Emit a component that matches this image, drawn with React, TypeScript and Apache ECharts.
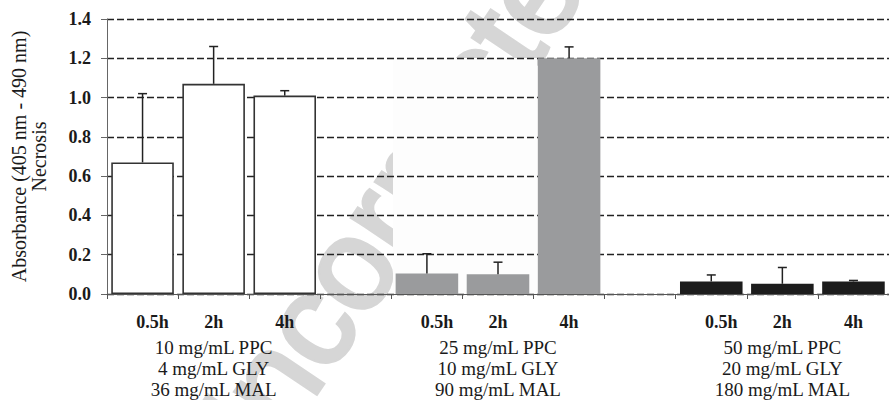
import React, { useEffect, useRef } from "react";
import * as echarts from "echarts";

const hours = ["0.5h", "2h", "4h"];
const groupLabels = [
  ["10 mg/mL PPC", "4 mg/mL GLY", "36 mg/mL MAL"],
  ["25 mg/mL PPC", "10 mg/mL GLY", "90 mg/mL MAL"],
  ["50 mg/mL PPC", "20 mg/mL GLY", "180 mg/mL MAL"],
];
const lowDoseMeans = [0.67, 1.07, 1.01];
const lowDoseSD = [0.35, 0.19, 0.025];
const midDoseMeans = [0.105, 0.1, 1.2];
const midDoseSD = [0.1, 0.062, 0.058];
const highDoseMeans = [0.064, 0.052, 0.064];
const highDoseSD = [0.033, 0.083, 0.005];
const groupColors = ["#ffffff", "#9a9b9d", "#1c1c1c"];
const groupBorders = ["#333333", "#9a9b9d", "#1c1c1c"];
const yMin = 0;
const yMax = 1.4;
const yInterval = 0.2;

const FONT = "Liberation Serif";
const TEXT = "#1a1a1a";

export default function App() {
  const ref = useRef<HTMLDivElement>(null);
  useEffect(() => {
    document.body.style.margin = "0";
    if (!ref.current) return;
    const chart = echarts.init(ref.current, null, { renderer: "svg" });

    const means = [lowDoseMeans, midDoseMeans, highDoseMeans];
    const sds = [lowDoseSD, midDoseSD, highDoseSD];
    const categories: string[] = [];
    const barData: any[] = [];
    const errData: any[] = [];
    means.forEach((m, g) => {
      hours.forEach((h, i) => {
        const idx = categories.length;
        categories.push(`${g}|${i}`);
        barData.push({
          value: m[i],
          itemStyle: {
            color: groupColors[g],
            borderColor: groupBorders[g],
            borderWidth: g === 0 ? 1.6 : 0,
          },
        });
        errData.push([idx, m[i], m[i] + sds[g][i]]);
      });
      if (g < means.length - 1) {
        categories.push(`gap${g}`);
        barData.push("-");
      }
    });

    const option: any = {
      animation: false,
      backgroundColor: "#ffffff",
      grid: { left: 107, right: -8, top: 19, bottom: 106, containLabel: false },
      graphic: [
        {
          type: "text",
          x: 395,
          y: 196,
          rotation: 0.98,
          z: -3,
          silent: true,
          style: {
            text: "Uncorrected",
            fontSize: 130,
            fontWeight: "normal",
            fontFamily: "Liberation Sans",
            fill: "#d6d6d6",
            stroke: "#d6d6d6",
            lineWidth: 4,
            align: "center",
            verticalAlign: "middle",
          },
        },
        {
          type: "rect",
          z: -2,
          silent: true,
          shape: { x: 393, y: 58, width: 144, height: 236 },
          style: { fill: "#fdfdfd" },
        },
      ],
      xAxis: {
        type: "category",
        data: categories,
        z: 1,
        axisLine: { lineStyle: { color: "#555", width: 1 } },
        axisTick: { show: true, length: 5, lineStyle: { color: "#555" } },
        axisLabel: {
          interval: 0,
          margin: 13,
          formatter: (v: string) => {
            if (v.startsWith("gap")) return "";
            const [g, i] = v.split("|").map(Number);
            const hourKey = i === 0 ? "hp" : "h";
            let s = `{${hourKey}|${hours[i]}}`;
            if (i === 1) {
              s += groupLabels[g].map((t) => `\n{g|${t}}`).join("");
            }
            return s;
          },
          rich: {
            h: { fontSize: 18, fontWeight: "bold", fontFamily: FONT, color: TEXT, lineHeight: 30 },
            hp: {
              fontSize: 18,
              fontWeight: "bold",
              fontFamily: FONT,
              color: TEXT,
              lineHeight: 30,
              padding: [0, 0, 0, 20],
            },
            g: { fontSize: 19, fontFamily: FONT, color: TEXT, lineHeight: 21 },
          },
        },
        splitLine: { show: false },
      },
      yAxis: {
        type: "value",
        min: yMin,
        max: yMax,
        interval: yInterval,
        name: "Absorbance (405 nm - 490 nm)\nNecrosis",
        nameLocation: "middle",
        nameRotate: 90,
        nameGap: 58,
        nameTextStyle: { fontSize: 20, fontFamily: FONT, color: TEXT, lineHeight: 20 },
        axisLine: { show: true, lineStyle: { color: "#666", width: 1 } },
        axisTick: { show: true, length: 6, lineStyle: { color: "#666" } },
        axisLabel: {
          margin: 16,
          fontSize: 18,
          fontWeight: "bold",
          fontFamily: FONT,
          color: TEXT,
          formatter: (v: number) => v.toFixed(1),
        },
        splitLine: {
          show: true,
          lineStyle: { color: "#222", width: 1.3, type: [7, 3] },
        },
      },
      series: [
        {
          type: "bar",
          data: barData,
          barWidth: "88%",
          z: 2,
        },
        {
          type: "custom",
          z: 3,
          data: errData,
          renderItem: (params: any, api: any) => {
            const x = api.value(0);
            const base = api.coord([x, api.value(1)]);
            const top = api.coord([x, api.value(2)]);
            const half = 4.5;
            const style = { stroke: "#222", lineWidth: 1.5 };
            return {
              type: "group",
              children: [
                {
                  type: "line",
                  shape: { x1: base[0], y1: base[1], x2: top[0], y2: top[1] },
                  style,
                },
                {
                  type: "line",
                  shape: { x1: top[0] - half, y1: top[1], x2: top[0] + half, y2: top[1] },
                  style,
                },
              ],
            };
          },
        },
      ],
    };
    chart.setOption(option);
    return () => chart.dispose();
  }, []);
  return <div ref={ref} style={{ width: 889, height: 400 }} />;
}
